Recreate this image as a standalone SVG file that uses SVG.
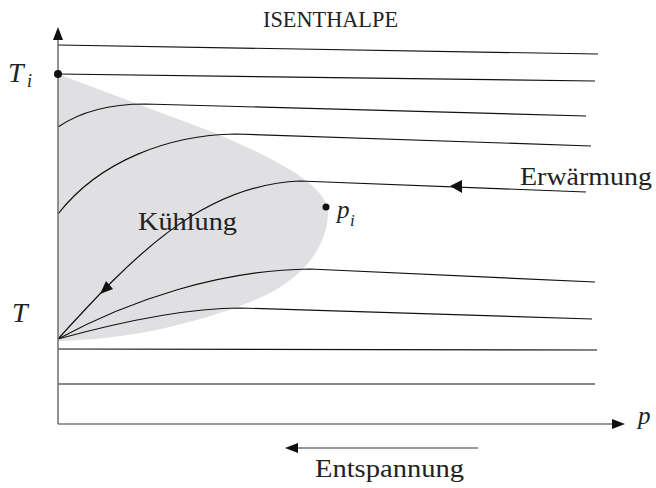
<svg xmlns="http://www.w3.org/2000/svg" width="656" height="488" viewBox="0 0 656 488">
<style>
.t{font-family:"Liberation Serif","DejaVu Serif",serif;fill:#222}
.it{font-style:italic}
.c{fill:none;stroke:#111;stroke-width:1.2}
.ax{fill:none;stroke:#777;stroke-width:1.6}
.ah{fill:#111}
</style>
<rect width="656" height="488" fill="#fff"/>
<g id="region">
<path d="M58,74 L215,133 C285,163 330,188 328,215 C326,250 300,283 250,302 C200,322 130,340 58,341 Z" fill="#e0e0e2"/>
</g>
<g id="isenthalps">
<path class="c" d="M58,45 L598,54"/>
<path class="c" d="M58,74 L595,81"/>
<path class="c" d="M58,127 C80,112 110,104 145,104 L586,116"/>
<path class="c" d="M58,214 C100,160 170,135 235,134 L591,146"/>
<path class="c" d="M58,339 C130,260 200,185 300,181 L586,192"/>
<path class="c" d="M58,339 C130,300 220,270 310,269 L595,282"/>
<path class="c" d="M58,339 C120,322 190,308 240,308 L592,319"/>
<path class="c" d="M58,349 L597,350"/>
<path class="c" d="M58,384 L595,384"/>
</g>
<g id="axes">
<path class="ax" d="M58,424 L58,40"/>
<polygon class="ah" points="58,27 53,40 63,40"/>
<path class="ax" d="M58,424 L612,424"/>
<polygon class="ah" points="625,424 612,419 612,429"/>
</g>
<g id="arrows">
<polygon class="ah" points="100,294 113,289 106,281"/>
<polygon class="ah" points="450,186 462,180 462,193"/>
<path class="ax" d="M478,448 L298,448"/>
<polygon class="ah" points="285,448 298,443 298,453"/>
</g>
<g id="points">
<circle cx="58" cy="74" r="4" fill="#111"/>
<circle cx="326" cy="207" r="3.5" fill="#111"/>
</g>
<g id="labels">
<text class="t" x="263" y="27" font-size="24" textLength="135" lengthAdjust="spacingAndGlyphs">ISENTHALPE</text>
<text class="t it" x="8" y="82" font-size="28">T</text>
<text class="t it" x="27" y="87" font-size="18">i</text>
<text class="t it" x="12" y="322" font-size="28">T</text>
<text class="t" x="138" y="230" font-size="25" textLength="99" lengthAdjust="spacingAndGlyphs">Kühlung</text>
<text class="t it" x="337" y="218" font-size="25">p</text>
<text class="t it" x="350" y="226" font-size="17">i</text>
<text class="t" x="520" y="185" font-size="25" textLength="132" lengthAdjust="spacingAndGlyphs">Erwärmung</text>
<text class="t" x="315" y="477" font-size="25" textLength="149" lengthAdjust="spacingAndGlyphs">Entspannung</text>
<text class="t it" x="638" y="424" font-size="25">p</text>
</g>
</svg>
